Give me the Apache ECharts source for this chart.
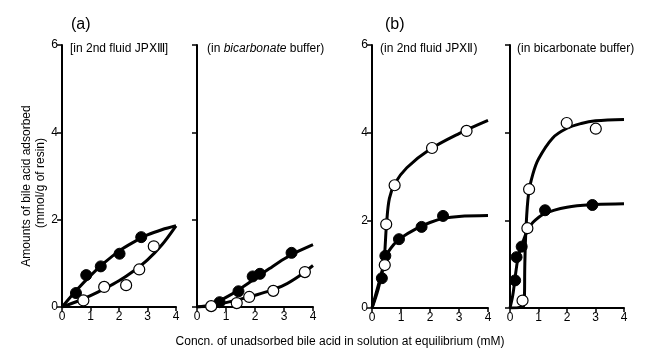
<!DOCTYPE html>
<html><head><meta charset="utf-8">
<script src="https://cdn.jsdelivr.net/npm/echarts@6/dist/echarts.min.js"></script>
<style>html,body{margin:0;padding:0;background:#fff}#c{width:656px;height:355px}</style>
</head><body><div id="c"></div>
<script>
// ---- data (x = mM, y = mmol/g) ----
const xTicks = [0, 1, 2, 3, 4];
const yTicks = [0, 2, 4, 6];
// (a) in 2nd fluid JPXIII
const a1Filled = [[0.49,0.32],[0.85,0.73],[1.36,0.93],[2.02,1.22],[2.78,1.60]];
const a1Open   = [[0.75,0.15],[1.48,0.46],[2.25,0.50],[2.71,0.86],[3.22,1.39]];
const a1FilledFit = [[0,0],[0.5,0.38],[1,0.72],[1.5,1.02],[2,1.28],[2.5,1.48],[3,1.65],[3.5,1.77],[4,1.86]];
const a1OpenFit   = [[0,0],[0.5,0.12],[1,0.26],[1.5,0.42],[2,0.6],[2.5,0.82],[3,1.08],[3.5,1.42],[4,1.86]];
// (a) in bicarbonate buffer
const a2Filled = [[0.78,0.11],[1.43,0.36],[1.92,0.70],[2.17,0.76],[3.26,1.24]];
const a2Open   = [[0.49,0.02],[1.37,0.09],[1.80,0.23],[2.63,0.37],[3.72,0.80]];
const a2FilledFit = [[0,0],[0.5,0.06],[1,0.22],[1.5,0.42],[2,0.65],[2.5,0.88],[3,1.1],[3.5,1.28],[4,1.43]];
const a2OpenFit   = [[0,0],[0.5,0.03],[1,0.1],[1.5,0.18],[2,0.27],[2.5,0.37],[3,0.5],[3.5,0.7],[4,0.95]];
// (b) in 2nd fluid JPXII
const b1Filled = [[0.34,0.68],[0.46,1.19],[0.93,1.57],[1.71,1.85],[2.45,2.10]];
const b1Open   = [[0.44,0.98],[0.49,1.91],[0.78,2.80],[2.07,3.65],[3.26,4.04]];
const b1FilledFit = [[0,0],[0.3,0.72],[0.5,1.2],[0.75,1.45],[1,1.6],[1.5,1.8],[2,1.95],[2.5,2.05],[3,2.09],[4,2.11]];
const b1OpenFit   = [[0,0],[0.2,0.4],[0.4,1.0],[0.5,1.9],[0.6,2.5],[0.8,2.85],[1.2,3.2],[2,3.62],[3,3.98],[4,4.28]];
// (b) in bicarbonate buffer
const b2Filled = [[0.18,0.63],[0.23,1.16],[0.41,1.40],[1.23,2.23],[2.89,2.35]];
const b2Open   = [[0.44,0.17],[0.61,1.82],[0.67,2.71],[1.99,4.22],[3.01,4.09]];
const b2FilledFit = [[0,0],[0.1,0.3],[0.2,0.8],[0.3,1.2],[0.45,1.5],[0.6,1.75],[0.8,1.95],[1.2,2.15],[2,2.3],[3,2.36],[4,2.38]];
const b2OpenFit   = [[0,0],[0.4,0.02],[0.5,0.1],[0.52,1.0],[0.56,1.8],[0.65,2.6],[0.8,3.05],[1,3.4],[1.5,3.88],[2,4.1],[2.5,4.21],[3,4.27],[4,4.3]];

const panels = [
  {left:62, width:114, top:45, height:262, yLabels:true,  filled:a1Filled, open:a1Open, ff:a1FilledFit, of:a1OpenFit},
  {left:197, width:116, top:45, height:262, yLabels:false, filled:a2Filled, open:a2Open, ff:a2FilledFit, of:a2OpenFit},
  {left:372, width:116, top:45, height:263, yLabels:true,  filled:b1Filled, open:b1Open, ff:b1FilledFit, of:b1OpenFit},
  {left:510, width:114, top:45, height:263, yLabels:false, filled:b2Filled, open:b2Open, ff:b2FilledFit, of:b2OpenFit}
];
const FONT = 'Liberation Sans, Arial, sans-serif';
const grid = [], xAxis = [], yAxis = [], series = [];
panels.forEach((p, i) => {
  grid.push({left:p.left, width:p.width, top:p.top, height:p.height, containLabel:false});
  xAxis.push({gridIndex:i, type:'value', min:xTicks[0], max:xTicks[xTicks.length-1], interval:1,
    axisLine:{onZero:false, lineStyle:{color:'#000', width:2}},
    axisTick:{inside:false, length:4, lineStyle:{color:'#000', width:1.5}},
    axisLabel:{color:'#000', fontSize:12, fontFamily:FONT, margin:4},
    splitLine:{show:false}});
  yAxis.push({gridIndex:i, type:'value', min:yTicks[0], max:yTicks[yTicks.length-1], interval:2,
    axisLine:{show:true, onZero:false, lineStyle:{color:'#000', width:2}},
    axisTick:{show:true, inside:false, length:5, lineStyle:{color:'#000', width:1.5}},
    axisLabel:{show:p.yLabels, color:'#000', fontSize:12, fontFamily:FONT, margin:4},
    splitLine:{show:false}});
  const lineCommon = {type:'line', xAxisIndex:i, yAxisIndex:i, showSymbol:false, smooth:0.35,
    lineStyle:{color:'#000', width:3}, z:2, silent:true};
  series.push(Object.assign({data:p.ff}, lineCommon));
  series.push(Object.assign({data:p.of}, lineCommon));
  series.push({type:'scatter', xAxisIndex:i, yAxisIndex:i, data:p.filled, symbolSize:11,
    itemStyle:{color:'#000', borderColor:'#000', borderWidth:1, opacity:1}, z:3});
  series.push({type:'scatter', xAxisIndex:i, yAxisIndex:i, data:p.open, symbolSize:11,
    itemStyle:{color:'#fff', borderColor:'#000', borderWidth:1.2, opacity:1}, z:4});
});

const capStyle = {fontSize:12, fontFamily:FONT, color:'#000', fontWeight:'normal'};
const option = {
  animation:false,
  backgroundColor:'#fff',
  title:[
    {text:'(a)', left:66, top:12, textStyle:{fontSize:16, fontWeight:'normal', fontFamily:FONT, color:'#000'}},
    {text:'(b)', left:380, top:12, textStyle:{fontSize:16, fontWeight:'normal', fontFamily:FONT, color:'#000'}},
    {text:'[in 2nd fluid JPⅩⅢ]', left:65, top:38, textStyle:capStyle},
    {text:'{n|(in }{i|bicarbonate}{n| buffer)}', left:202, top:38,
      textStyle:{fontWeight:'normal', rich:{n:capStyle, i:Object.assign({}, capStyle, {fontStyle:'italic'})}}},
    {text:'(in 2nd fluid JPⅩⅡ)', left:375, top:38, textStyle:capStyle},
    {text:'(in bicarbonate buffer)', left:512, top:38, textStyle:capStyle}
  ],
  grid, xAxis, yAxis, series,
  graphic:[
    {type:'text', x:27, y:186, rotation:Math.PI/2,
      style:{text:'Amounts of bile acid adsorbed', font:'12px '+FONT, fill:'#000', textAlign:'center', textVerticalAlign:'middle'}},
    {type:'text', x:41, y:183, rotation:Math.PI/2,
      style:{text:'(mmol/g of resin)', font:'12px '+FONT, fill:'#000', textAlign:'center', textVerticalAlign:'middle'}},
    {type:'text', x:340, y:342,
      style:{text:'Concn. of unadsorbed bile acid in solution at equilibrium (mM)', font:'12px '+FONT, fill:'#000', textAlign:'center', textVerticalAlign:'middle'}}
  ]
};
const chart = echarts.init(document.getElementById('c'), null, {renderer:'canvas'});
chart.setOption(option);
</script></body></html>
